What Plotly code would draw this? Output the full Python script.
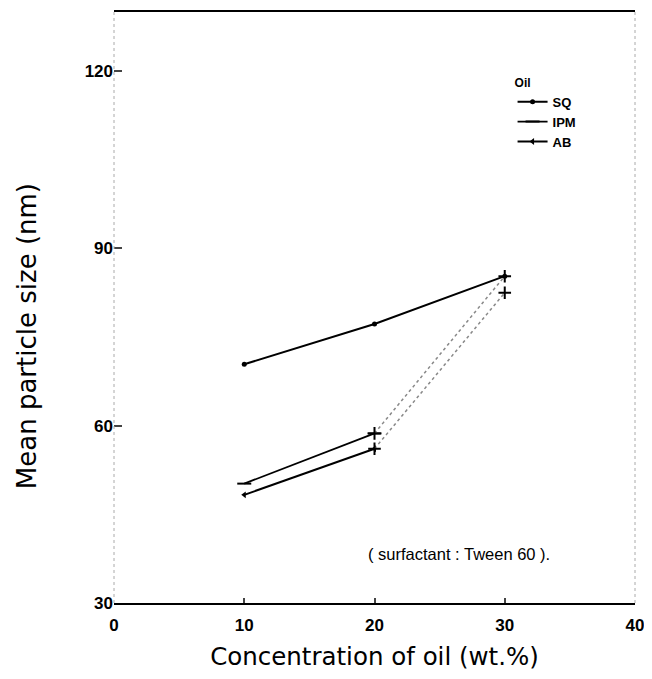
import plotly.graph_objects as go

conc = [10, 20, 30]
sq = [70.4, 77.2, 85.3]
ipm = [50.2, 58.7, 85.3]
ab = [48.3, 56.1, 82.5]
x_ticks = [0, 10, 20, 30, 40]
y_ticks = [30, 60, 90, 120]

fig = go.Figure()
fig.add_trace(go.Scatter(x=conc, y=sq, name="SQ", mode="lines+markers",
                         line=dict(color="black", width=2),
                         marker=dict(symbol="circle", size=5, color="black")))
fig.add_trace(go.Scatter(x=conc[:2], y=ipm[:2], name="IPM", mode="lines+markers",
                         line=dict(color="black", width=1.8),
                         marker=dict(symbol="line-ew-open", size=10, color="black", line=dict(width=2, color="black"))))
fig.add_trace(go.Scatter(x=conc[:2], y=ab[:2], name="AB", mode="lines+markers",
                         line=dict(color="black", width=2),
                         marker=dict(symbol="triangle-left", size=6, color="black")))
fig.add_trace(go.Scatter(x=conc[1:], y=ipm[1:], mode="lines+markers", showlegend=False,
                         line=dict(color="#888", width=1.5, dash="dot"),
                         marker=dict(symbol="cross-thin-open", size=9, color="black", line=dict(width=2, color="black"))))
fig.add_trace(go.Scatter(x=conc[1:], y=ab[1:], mode="lines+markers", showlegend=False,
                         line=dict(color="#888", width=1.5, dash="dot"),
                         marker=dict(symbol="cross-thin-open", size=9, color="black", line=dict(width=2, color="black"))))

fig.add_annotation(x=26.5, y=38.3, xref="x", yref="y", showarrow=False,
                   text="( surfactant : Tween 60 ).",
                   font=dict(family="Liberation Sans, Arial", size=16.5, color="black"))

fig.add_annotation(x=-0.199, y=0.452, xref="paper", yref="paper", showarrow=False, textangle=-90,
                   text="Mean particle size (nm)",
                   font=dict(family="DejaVu Sans", size=26, color="black"))

# faint dotted side frame lines
for xp in (0, 1):
    fig.add_shape(type="line", xref="paper", yref="paper", x0=xp, x1=xp, y0=0, y1=1,
                  line=dict(color="#aaa", width=1, dash="dot"))

fig.update_layout(
    width=644, height=663,
    margin=dict(l=106, r=17, t=4, b=68, autoexpand=False),
    plot_bgcolor="white", paper_bgcolor="white",
    font=dict(family="Liberation Sans, Arial", color="black"),
    legend=dict(title=dict(text="Oil", font=dict(size=12)), x=0.765, y=0.9, xanchor="left", yanchor="top",
                tracegroupgap=0,
                font=dict(size=13, family="Liberation Sans, Arial", weight="bold"), bgcolor="rgba(0,0,0,0)"),
    xaxis=dict(range=[0, 40], tickvals=x_ticks, ticks="inside", ticklen=5, tickwidth=1.5,
               showline=True, linecolor="black", linewidth=2, mirror=True, showgrid=False, zeroline=False,
               automargin=False, ticklabelstandoff=6,
               tickfont=dict(family="Liberation Sans, Arial", size=17, weight="bold"),
               title=dict(text="Concentration of oil (wt.%)", font=dict(family="DejaVu Sans", size=24.5), standoff=14)),
    yaxis=dict(range=[30, 130], tickvals=y_ticks, ticks="inside", ticklen=8, tickwidth=2,
               showline=False, showgrid=False, zeroline=False, automargin=False,
               tickfont=dict(family="Liberation Sans, Arial", size=17, weight="bold")),
)
fig.write_html("out.html")
